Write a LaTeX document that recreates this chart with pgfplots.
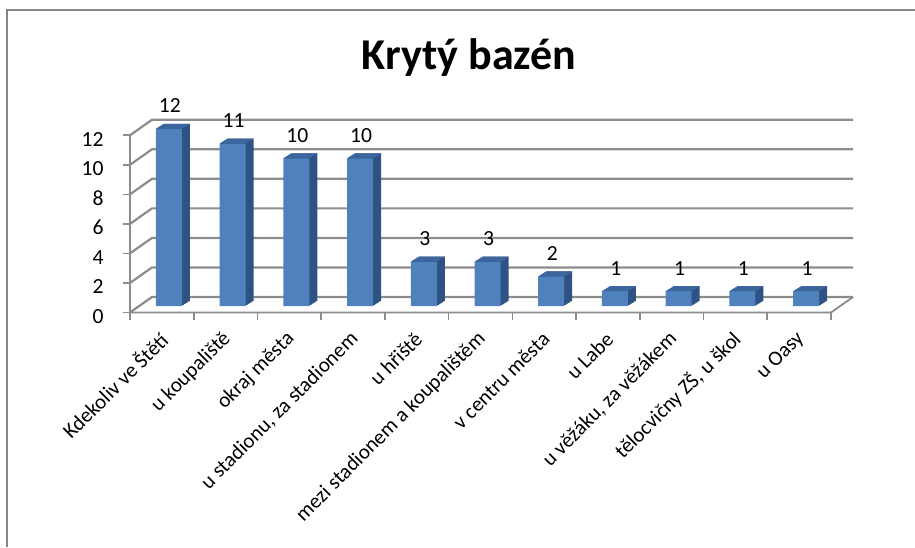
\documentclass[border=0pt]{standalone}
\usepackage{fontspec}
\setmainfont{Carlito}
\usepackage{pgfplots}
\pgfplotsset{compat=1.18}
\usepackage{pgfplotstable}

\definecolor{barfront}{RGB}{79,129,189}
\definecolor{barside}{RGB}{46,82,132}
\definecolor{bartop}{RGB}{60,102,158}
\definecolor{gridc}{RGB}{140,140,140}
\definecolor{framec}{RGB}{134,134,134}

\newcommand\yl[1]{\raisebox{-5.4pt}[0pt][0pt]{#1}}

\pgfdeclareplotmark{topface}{%
  \pgfpathmoveto{\pgfpoint{-3pt}{0pt}}%
  \pgfpathlineto{\pgfpoint{10pt}{0pt}}%
  \pgfpathlineto{\pgfpoint{14pt}{2.5pt}}%
  \pgfpathlineto{\pgfpoint{1pt}{2.5pt}}%
  \pgfpathclose
  \pgfusepathqfill}

\tikzset{extrude/.style={
  preaction={fill=barside, draw=none, transform canvas={shift={(4pt,2.5pt)}}},
  preaction={fill=barside, draw=none, transform canvas={shift={(3.5pt,2.1875pt)}}},
  preaction={fill=barside, draw=none, transform canvas={shift={(3pt,1.875pt)}}},
  preaction={fill=barside, draw=none, transform canvas={shift={(2.5pt,1.5625pt)}}},
  preaction={fill=barside, draw=none, transform canvas={shift={(2pt,1.25pt)}}},
  preaction={fill=barside, draw=none, transform canvas={shift={(1.5pt,0.9375pt)}}},
  preaction={fill=barside, draw=none, transform canvas={shift={(1pt,0.625pt)}}},
  preaction={fill=barside, draw=none, transform canvas={shift={(0.5pt,0.3125pt)}}}
}}

\pgfplotstableread{
x v
0 12
1 11
2 10
3 10
4 3
5 3
6 2
7 1
8 1
9 1
10 1
}\bazen

\begin{document}
\begin{tikzpicture}
\path[use as bounding box] (0,0) rectangle (457.5pt,273.5pt);
\draw[framec, line width=1pt] (3.5pt,0) -- (3.5pt,268.3pt) -- (457.5pt,268.3pt);
\begin{axis}[
  at={(65pt,117.25pt)}, anchor=south west,
  scale only axis, width=361.5pt, height=96.37pt,
  xmin=-0.5, xmax=10.845, ymin=-0.44, ymax=12.61,
  clip=false,
  axis lines=left, axis line style={draw=none},
  tick align=outside,
  major tick length=3.5pt,
  tick style={gridc, line width=0.8pt},
  ytick={-0.44,1.56,3.56,5.56,7.56,9.56,11.56},
  yticklabels={\yl{0},\yl{2},\yl{4},\yl{6},\yl{8},\yl{10},\yl{12}},
  yticklabel style={xshift=-9.5pt, anchor=east, inner sep=0pt, font=\fontsize{10.8}{12}\selectfont},
  xtick={-0.5,0.5,...,10.5}, xticklabels={},
  extra x ticks={0,1,2,3,4,5,6,7,8,9,10},
  extra x tick labels={Kdekoliv ve Štětí,u koupaliště,okraj města,{u stadionu, za stadionem},u hřiště,mezi stadionem a koupalištěm,v centru města,u Labe,{u věžáku, za věžákem},{tělocvičny ZŠ, u škol},u Oasy},
  extra x tick style={tick style={draw=none},
    xticklabel style={xshift=1pt, yshift=-8pt, rotate=45, anchor=east, inner sep=0pt, font=\fontsize{10.5}{12}\selectfont}},
  title={Krytý bazén},
  title style={at={(axis description cs:0.469,1.263)}, anchor=base, yshift=-6pt, inner sep=0pt, font=\bfseries\fontsize{22}{26}\selectfont},
  /pgf/number format/assume math mode=true,
]
% back wall and side wall gridlines
\addplot[gridc, line width=1.1pt] coordinates {(-0.5,-0.44) (-0.155,0.61) (10.845,0.61)};
\addplot[gridc, line width=1.1pt] coordinates {(-0.5,1.56) (-0.155,2.61) (10.845,2.61)};
\addplot[gridc, line width=1.1pt] coordinates {(-0.5,3.56) (-0.155,4.61) (10.845,4.61)};
\addplot[gridc, line width=1.1pt] coordinates {(-0.5,5.56) (-0.155,6.61) (10.845,6.61)};
\addplot[gridc, line width=1.1pt] coordinates {(-0.5,7.56) (-0.155,8.61) (10.845,8.61)};
\addplot[gridc, line width=1.1pt] coordinates {(-0.5,9.56) (-0.155,10.61) (10.845,10.61)};
\addplot[gridc, line width=1.1pt] coordinates {(-0.5,11.56) (-0.155,12.61) (10.845,12.61)};
% front axis and floor
\addplot[gridc, line width=0.9pt] coordinates {(-0.5,-0.44) (-0.5,11.56)};
\addplot[gridc, line width=0.9pt] coordinates {(-0.5,-0.44) (10.5,-0.44) (10.845,0.61)};
% bars
\addplot[ybar, bar width=13pt, bar shift=3.5pt, fill=barfront, draw=none, extrude] table[x=x, y=v] {\bazen};
\addplot[only marks, mark=topface, mark options={fill=bartop, draw=none},
  nodes near coords, point meta=y,
  every node near coord/.append style={anchor=base, xshift=4pt, yshift=8pt, text=black, font=\fontsize{10.8}{12}\selectfont}]
  table[x=x, y=v] {\bazen};
\end{axis}
\end{tikzpicture}
\end{document}
